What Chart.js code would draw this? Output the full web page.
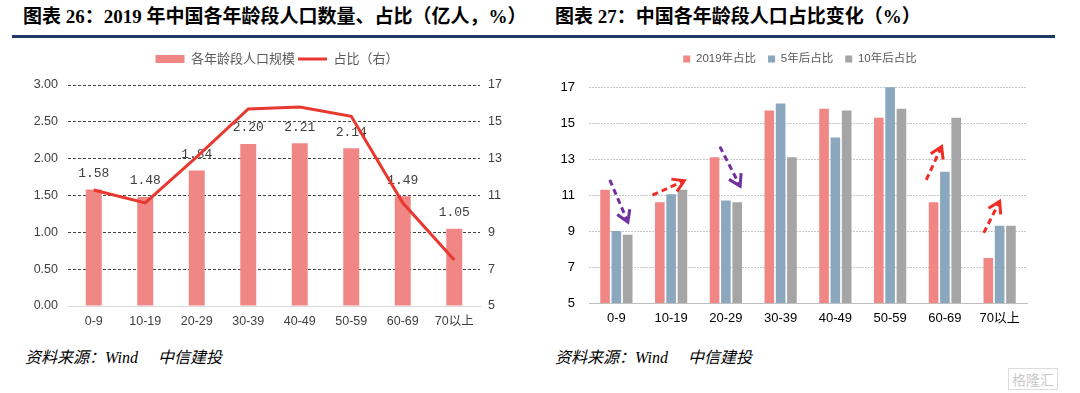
<!DOCTYPE html>
<html>
<head>
<meta charset="utf-8">
<script src="https://cdn.jsdelivr.net/npm/chart.js@4/dist/chart.umd.min.js"></script>
<style>
  body { margin: 0; width: 1080px; height: 393px; background: #fff; position: relative; overflow: hidden; }
  .titulo { position: absolute; top: 6px; font: bold 19px/22px "Liberation Serif", "Noto Sans CJK SC", serif; color: #000; white-space: nowrap; }
  .regla { position: absolute; left: 12px; top: 35px; width: 1043px; height: 3px; background: #1f3864; }
  .fuente { position: absolute; top: 348px; font: italic 16px/20px "Liberation Serif", "Noto Sans CJK SC", serif; color: #000; white-space: nowrap; }
  .marca { position: absolute; left: 1008px; top: 368px; font: 14px "Noto Sans CJK SC", sans-serif; color: #c8c8c8; border: 1px solid #ddd; padding: 0 3px; }
  canvas { position: absolute; top: 40px; }
</style>
</head>
<body>
<div class="titulo" style="left:23px">图表 26：2019 年中国各年龄段人口数量、占比（亿人，%）</div>
<div class="titulo" style="left:555px">图表 27：中国各年龄段人口占比变化（%）</div>
<div class="regla"></div>
<canvas id="graficoPoblacion" width="540" height="300" style="left:0"></canvas>
<canvas id="graficoCambio" width="540" height="300" style="left:540px"></canvas>
<div class="fuente" style="left:25px">资料来源：Wind　 中信建投</div>
<div class="fuente" style="left:555px">资料来源：Wind　 中信建投</div>
<div class="marca">格隆汇</div>
<script>
// datos
const gruposEdad = ['0-9', '10-19', '20-29', '30-39', '40-49', '50-59', '60-69', '70以上'];
const poblacion2019 = [1.58, 1.48, 1.84, 2.20, 2.21, 2.14, 1.49, 1.05];
const peso2019 = [11.3, 10.6, 13.1, 15.7, 15.8, 15.3, 10.6, 7.5];
const peso5anos = [9.0, 11.05, 10.7, 16.1, 14.2, 17.3, 12.3, 9.3];
const peso10anos = [8.8, 11.3, 10.6, 13.1, 15.7, 15.8, 15.3, 9.3];
const ticksPoblacion = [0, 0.5, 1, 1.5, 2, 2.5, 3];
const ticksPeso = [5, 7, 9, 11, 13, 15, 17];

// flechas de tendencia del grafico derecho: [indice categoria, valor]
const flechas = [
  { desde: [-0.12, 11.85], hasta: [0.21, 9.5], color: '#7030a0' },
  { desde: [0.66, 11.0], hasta: [1.24, 11.8], color: '#ee2b24' },
  { desde: [1.89, 13.7], hasta: [2.26, 11.5], color: '#7030a0' },
  { desde: [5.66, 11.85], hasta: [5.94, 13.7], color: '#ee2b24' },
  { desde: [6.71, 8.9], hasta: [7.0, 10.65], color: '#ee2b24' }
];

Chart.defaults.font.family = '"Liberation Sans", "Noto Sans CJK SC", sans-serif';
Chart.defaults.animation = false;

// agrega espacio debajo de la leyenda
const espacioLeyenda = px => ({
  id: 'espacioLeyenda',
  beforeInit(chart) {
    const fit = chart.legend.fit;
    chart.legend.fit = function () { fit.call(this); this.height += px; };
  }
});

const etiquetasBarras = {
  id: 'etiquetasBarras',
  afterDatasetDraw(chart, args) {
    if (args.index !== 0) return;
    const ctx = chart.ctx;
    ctx.save();
    ctx.font = '13px "Liberation Mono", monospace';
    ctx.fillStyle = '#404040';
    ctx.textAlign = 'center';
    ctx.textBaseline = 'middle';
    args.meta.data.forEach((barra, i) => {
      ctx.fillText(poblacion2019[i].toFixed(2), barra.x, barra.y - 16);
    });
    ctx.restore();
  }
};

const dibujarFlechas = {
  id: 'dibujarFlechas',
  afterDatasetsDraw(chart) {
    const ctx = chart.ctx;
    const x = chart.scales.x, y = chart.scales.y;
    ctx.save();
    ctx.lineWidth = 3;
    flechas.forEach(f => {
      const x1 = x.getPixelForValue(f.desde[0]), y1 = y.getPixelForValue(f.desde[1]);
      const x2 = x.getPixelForValue(f.hasta[0]), y2 = y.getPixelForValue(f.hasta[1]);
      const ang = Math.atan2(y2 - y1, x2 - x1);
      ctx.strokeStyle = f.color;
      ctx.setLineDash([6, 4]);
      ctx.beginPath();
      ctx.moveTo(x1, y1);
      ctx.lineTo(x2 - 3 * Math.cos(ang), y2 - 3 * Math.sin(ang));
      ctx.stroke();
      ctx.setLineDash([]);
      ctx.beginPath();
      ctx.moveTo(x2 - 13 * Math.cos(ang - 0.55), y2 - 13 * Math.sin(ang - 0.55));
      ctx.lineTo(x2, y2);
      ctx.lineTo(x2 - 13 * Math.cos(ang + 0.55), y2 - 13 * Math.sin(ang + 0.55));
      ctx.stroke();
    });
    ctx.restore();
  }
};

function ticksFijos(valores) {
  return scale => { scale.ticks = valores.map(v => ({ value: v })); };
}

new Chart(document.getElementById('graficoPoblacion'), {
  data: {
    labels: gruposEdad,
    datasets: [
      {
        type: 'bar', label: '各年龄段人口规模', data: poblacion2019, yAxisID: 'y',
        backgroundColor: '#f08784', categoryPercentage: 0.31, barPercentage: 1,
        pointStyle: 'rect', order: 2
      },
      {
        type: 'line', label: '占比（右）', data: peso2019, yAxisID: 'y1',
        borderColor: '#e8382f', backgroundColor: '#e8382f', borderWidth: 3,
        pointRadius: 0, tension: 0, pointStyle: 'line', order: 1
      }
    ]
  },
  options: {
    responsive: false,
    layout: { padding: { top: 9.5, left: 14 } },
    plugins: {
      legend: {
        labels: {
          usePointStyle: true, pointStyleWidth: 29, boxHeight: 8,
          font: { size: 13 }, color: '#595959', padding: 3,
          sort: (a, b) => a.datasetIndex - b.datasetIndex
        }
      },
      tooltip: { enabled: false }
    },
    scales: {
      x: {
        grid: { display: false, drawTicks: false },
        border: { color: '#d9d9d9' },
        ticks: { color: '#404040', font: { size: 12.5 }, padding: 8 },
        afterFit: s => { s.height = 34; }
      },
      y: {
        position: 'left', min: 0, max: 3,
        afterBuildTicks: ticksFijos(ticksPoblacion),
        ticks: { color: '#404040', font: { size: 12.5 }, padding: 10, callback: v => v.toFixed(2) },
        grid: { color: c => c.tick.value === 0 ? 'rgba(0,0,0,0)' : '#444', drawTicks: false },
        border: { display: false, dash: [3, 2] },
        afterFit: s => { s.width = 54; }
      },
      y1: {
        position: 'right', min: 5, max: 17,
        afterBuildTicks: ticksFijos(ticksPeso),
        ticks: { color: '#404040', font: { size: 12.5 }, padding: 8 },
        grid: { display: false, drawTicks: false },
        border: { display: false },
        afterFit: s => { s.width = 60; }
      }
    }
  },
  plugins: [etiquetasBarras, espacioLeyenda(9.5)]
});

new Chart(document.getElementById('graficoCambio'), {
  type: 'bar',
  data: {
    labels: gruposEdad,
    datasets: [
      { label: '2019年占比', data: peso2019, backgroundColor: '#f08784' },
      { label: '5年后占比', data: peso5anos, backgroundColor: '#8ba7be' },
      { label: '10年后占比', data: peso10anos, backgroundColor: '#a5a5a5' }
    ]
  },
  options: {
    responsive: false,
    categoryPercentage: 0.62,
    barPercentage: 0.85,
    layout: { padding: { top: 1.25, right: 20 } },
    plugins: {
      legend: {
        labels: { boxWidth: 7, boxHeight: 7, font: { size: 11.5 }, color: '#595959', padding: 12 }
      },
      tooltip: { enabled: false }
    },
    scales: {
      x: {
        grid: { display: false, drawTicks: false },
        border: { color: '#bfbfbf' },
        ticks: { color: '#000', font: { size: 13 }, padding: 8 },
        afterFit: s => { s.height = 37; }
      },
      y: {
        min: 5, max: 17,
        afterBuildTicks: ticksFijos(ticksPeso),
        ticks: { color: '#000', font: { size: 13 }, padding: 14 },
        grid: { color: c => c.tick.value === 5 ? 'rgba(0,0,0,0)' : '#c8c8c8', drawTicks: false },
        border: { display: false, dash: [2, 1] },
        afterFit: s => { s.width = 49; }
      },
      margenDerecho: {
        position: 'right', min: 0, max: 1,
        ticks: { display: false },
        grid: { display: false, drawTicks: false },
        border: { display: false },
        afterFit: s => { s.width = 33; }
      }
    }
  },
  plugins: [dibujarFlechas, espacioLeyenda(12.5)]
});
</script>
</body>
</html>
